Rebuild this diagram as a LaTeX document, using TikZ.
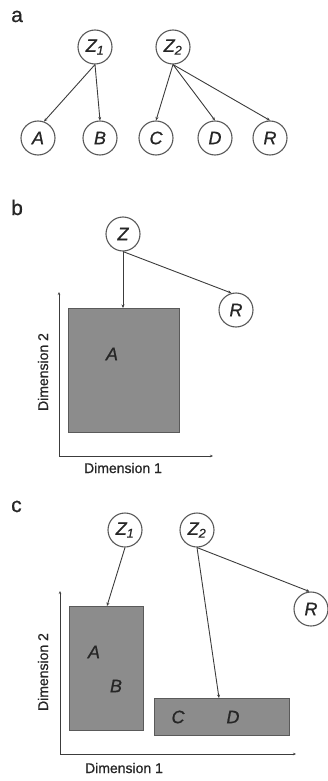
\documentclass[tikz,border=0pt]{standalone}
\usepackage{fontspec}
\setmainfont{Liberation Sans}[FakeBold=0.8]
\usetikzlibrary{arrows.meta}
\definecolor{lin}{HTML}{3C3C3C}
\definecolor{circ}{HTML}{5A5A5A}
\definecolor{boxfill}{HTML}{8C8C8C}
\definecolor{txt}{HTML}{262626}
\begin{document}
\begin{tikzpicture}[x=1pt,y=-1pt,
  var/.style={circle,draw=circ,line width=1.1pt,fill=white,minimum size=34pt,inner sep=0pt,
    font=\fontsize{18}{20}\selectfont\itshape,text=txt},
  edge/.style={draw=lin,line width=0.9pt,-{Stealth[length=3.5pt,width=3pt]}},
  region/.style={draw=circ,line width=1pt,fill=boxfill,inner sep=0pt,anchor=north west},
  axis/.style={draw=lin,line width=0.9pt,-{Stealth[length=3pt,width=2.5pt]}},
  dimlab/.style={font=\fontsize{14}{16}\selectfont,text=txt},
  panel/.style={font=\fontsize{21}{23}\selectfont,text=txt,anchor=base west,inner sep=0pt},
  inlab/.style={font=\fontsize{18}{20}\selectfont\itshape,text=txt}]
\useasboundingbox (0,0) rectangle (328,781);
% panel a
\node[panel] (la) at (11,22) {a};
\node[var] (aZ1) at (95,47) {Z\textsubscript{1}};
\node[var] (aZ2) at (173,47) {Z\textsubscript{2}};
\node[var] (aA) at (38,138) {A};
\node[var] (aB) at (100,138) {B};
\node[var] (aC) at (156,138) {C};
\node[var] (aD) at (215,138) {D};
\node[var] (aR) at (270,138) {R};
\draw[edge] (aZ1.south) -- (aA.70);
\draw[edge] (aZ1.south) -- (aB.north);
\draw[edge] (aZ2.south) -- (aC.north);
\draw[edge] (aZ2.south) -- (aD.north);
\draw[edge] (aZ2.south) -- (aR.north);
% panel b
\node[panel] (lb) at (11,215) {b};
\node[var] (bZ) at (123,234) {Z};
\node[var] (bR) at (236,310) {R};
\node[region,minimum width=111pt,minimum height=124pt] (bA) at (68,308) {};
\node[inlab] (bAl) at (112,354) {A};
\coordinate (bO) at (59,456);
\coordinate (bYt) at (59,292);
\coordinate (bXr) at (213,456);
\draw[axis] (bO) -- (bYt);
\draw[axis] (bO) -- (bXr);
\node[dimlab] (bX) at (123,468) {Dimension 1};
\node[dimlab,rotate=90] (bY) at (43,372) {Dimension 2};
\draw[edge] (bZ.south) -- (bZ.south |- bA.north);
\draw[edge] (bZ.south) -- (bR.105);
% panel c
\node[panel] (lc) at (11,512) {c};
\node[var] (cZ1) at (125,530) {Z\textsubscript{1}};
\node[var] (cZ2) at (197,530) {Z\textsubscript{2}};
\node[var] (cR) at (311,609) {R};
\node[region,minimum width=74pt,minimum height=124pt] (cAB) at (69,606) {};
\node[region,minimum width=135pt,minimum height=37pt] (cCD) at (154,698) {};
\node[inlab] (cAl) at (94,652) {A};
\node[inlab] (cBl) at (116,686) {B};
\node[inlab] (cCl) at (178,717) {C};
\node[inlab] (cDl) at (233,717) {D};
\coordinate (cO) at (60,754);
\coordinate (cYt) at (60,591);
\coordinate (cXr) at (296,754);
\draw[axis] (cO) -- (cYt);
\draw[axis] (cO) -- (cXr);
\node[dimlab] (cX) at (124,768) {Dimension 1};
\node[dimlab,rotate=90] (cY) at (43,672) {Dimension 2};
\draw[edge] (cZ1.south) -- ([xshift=38pt]cAB.north west);
\draw[edge] (cZ2.south) -- ([xshift=65pt]cCD.north west);
\draw[edge] (cZ2.south) -- (cR.95);
\end{tikzpicture}
\end{document}
